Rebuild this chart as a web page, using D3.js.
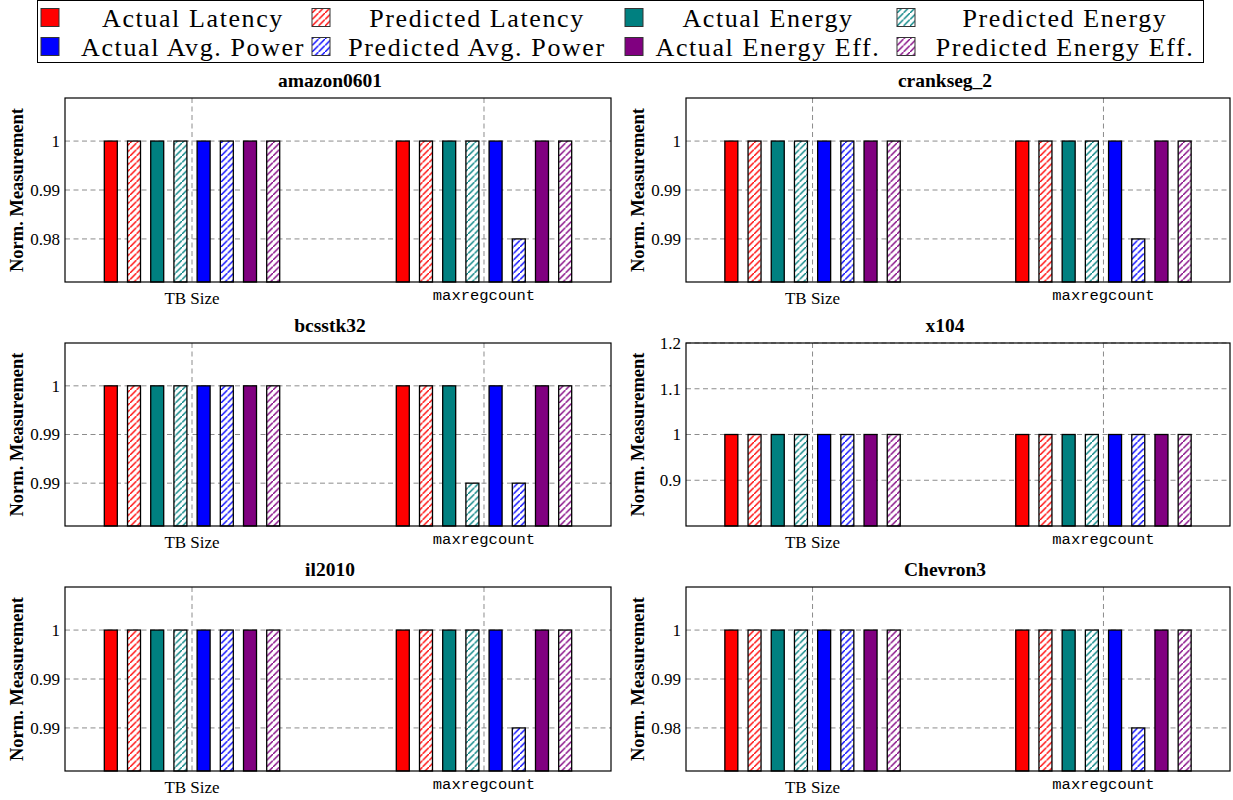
<!DOCTYPE html>
<html>
<head>
<meta charset="utf-8">
<script src="https://cdn.jsdelivr.net/npm/d3@7"></script>
<style>
  html, body { margin: 0; padding: 0; background: #fff; }
  svg { display: block; }
</style>
</head>
<body>
<svg id="chart" width="1233" height="800"></svg>
<script>
// ---------------- DATA ----------------
const seriesNames = [
  "Actual Latency", "Predicted Latency",
  "Actual Energy", "Predicted Energy",
  "Actual Avg. Power", "Predicted Avg. Power",
  "Actual Energy Eff.", "Predicted Energy Eff."
];
const seriesColors = ["#ff0000", "#ff0000", "#008080", "#008080", "#0000ff", "#0000ff", "#800080", "#800080"];
const seriesHatched = [false, true, false, true, false, true, false, true];

const categories = ["TB Size", "maxregcount"];
const panelTitles = ["amazon0601", "crankseg_2", "bcsstk32", "x104", "il2010", "Chevron3"];

// values per panel: [TB Size values], [maxregcount values] in series order
const valuesAmazon   = [[1, 1, 1, 1, 1, 1, 1, 1], [1, 1, 1, 1, 1, 0.98, 1, 1]];
const valuesCrankseg = [[1, 1, 1, 1, 1, 1, 1, 1], [1, 1, 1, 1, 1, 0.99, 1, 1]];
const valuesBcsstk   = [[1, 1, 1, 1, 1, 1, 1, 1], [1, 1, 1, 0.99, 1, 0.99, 1, 1]];
const valuesX104     = [[1, 1, 1, 1, 1, 1, 1, 1], [1, 1, 1, 1, 1, 1, 1, 1]];
const valuesIl2010   = [[1, 1, 1, 1, 1, 1, 1, 1], [1, 1, 1, 1, 1, 0.99, 1, 1]];
const valuesChevron  = [[1, 1, 1, 1, 1, 1, 1, 1], [1, 1, 1, 1, 1, 0.98, 1, 1]];
const panelValues = [valuesAmazon, valuesCrankseg, valuesBcsstk, valuesX104, valuesIl2010, valuesChevron];

// y-axis ticks and their printed labels
const ticksA = [0.98, 0.99, 1];      const tickLabelsA = ["0.98", "0.99", "1"];
const ticksB = [0.99, 0.995, 1];     const tickLabelsB = ["0.99", "0.99", "1"];
const ticksX = [0.9, 1, 1.1, 1.2];   const tickLabelsX = ["0.9", "1", "1.1", "1.2"];
const panelTicks = [ticksA, ticksB, ticksB, ticksX, ticksB, ticksA];
const panelTickLabels = [tickLabelsA, tickLabelsB, tickLabelsB, tickLabelsX, tickLabelsB, tickLabelsA];
// y-axis limits
const domainA = [0.9712, 1.0088];
const domainB = [0.9856, 1.0044];
const domainX = [0.8, 1.2];
const panelDomains = [domainA, domainB, domainB, domainX, domainB, domainA];

// ---------------- LAYOUT ----------------
const svg = d3.select("#chart");
const serif = "'Liberation Serif', 'Times New Roman', serif";
const mono = "'Liberation Mono', 'DejaVu Sans Mono', monospace";

const cols = [{x0: 65, x1: 611, title: 330, ylab: 23}, {x0: 686, x1: 1230, title: 945, ylab: 644}];
const rows = [{y0: 98, y1: 282}, {y0: 343, y1: 526}, {y0: 587, y1: 771}];

// patterns
const defs = svg.append("defs");
seriesColors.forEach((c, i) => {
  if (!seriesHatched[i]) return;
  const p = defs.append("pattern")
    .attr("id", "hatch" + i)
    .attr("patternUnits", "userSpaceOnUse")
    .attr("width", 6.5).attr("height", 6.5);
  p.append("rect").attr("width", 6.5).attr("height", 6.5).attr("fill", "#fff");
  p.append("path")
    .attr("d", "M-1,7.5 L7.5,-1 M-4,3.25 L3.25,-4 M3.25,10.5 L10.5,3.25")
    .attr("stroke", c).attr("stroke-width", 1.4);
});
const fillFor = i => seriesHatched[i] ? `url(#hatch${i})` : seriesColors[i];

// ---------------- LEGEND ----------------
const leg = svg.append("g");
leg.append("rect").attr("x", 37.5).attr("y", 0.5).attr("width", 1166).attr("height", 62)
  .attr("fill", "#fff").attr("stroke", "#000").attr("stroke-width", 1);
const legSwatchX = [41, 312, 625, 897];
const legTextX = [193, 477, 768, 1065];
const legRowY = [17.5, 46.5];
// column order: AL, PL, AE, PE / AP, PP, AEE, PEE
const legendLayout = [[0, 1, 2, 3], [4, 5, 6, 7]];
legendLayout.forEach((row, r) => {
  row.forEach((si, c) => {
    leg.append("rect")
      .attr("x", legSwatchX[c]).attr("y", legRowY[r] - 9).attr("width", 18).attr("height", 18)
      .attr("fill", fillFor(si)).attr("stroke", "#333").attr("stroke-width", 1);
    leg.append("text")
      .attr("x", legTextX[c]).attr("y", legRowY[r]).attr("dy", "0.36em")
      .attr("text-anchor", "middle")
      .attr("font-family", serif).attr("font-size", 26)
      .attr("letter-spacing", 1.6)
      .text(seriesNames[si]);
  });
});

// ---------------- PANELS ----------------
panelTitles.forEach((title, pi) => {
  const col = cols[pi % 2], row = rows[Math.floor(pi / 2)];
  const g = svg.append("g");
  const x = d3.scaleLinear().domain([-0.435, 1.435]).range([col.x0, col.x1]);
  const y = d3.scaleLinear().domain(panelDomains[pi]).range([row.y1, row.y0]);
  const inner = d3.scaleBand().domain(d3.range(seriesNames.length))
    .range([-92.8, 92.8]).paddingInner(0.44).paddingOuter(0.22);

  // grid
  const gridStyle = sel => sel.attr("stroke", "#8c8c8c").attr("stroke-width", 1).attr("stroke-dasharray", "5,3.5");
  g.selectAll(".hg").data(panelTicks[pi]).join("line")
    .attr("x1", col.x0).attr("x2", col.x1)
    .attr("y1", d => y(d)).attr("y2", d => y(d)).call(gridStyle);
  g.selectAll(".vg").data(categories).join("line")
    .attr("x1", (d, i) => x(i)).attr("x2", (d, i) => x(i))
    .attr("y1", row.y0).attr("y2", row.y1).call(gridStyle);

  // bars
  const vals = panelValues[pi];
  const bars = [];
  vals.forEach((arr, ci) => arr.forEach((v, si) => bars.push({ci, si, v})));
  const ymin = panelDomains[pi][0];
  g.selectAll(".bar").data(bars).join("rect")
    .attr("x", d => x(d.ci) + inner(d.si))
    .attr("width", inner.bandwidth())
    .attr("y", d => y(d.v))
    .attr("height", d => y(ymin) - y(d.v))
    .attr("fill", d => fillFor(d.si))
    .attr("stroke", "#000").attr("stroke-width", 1.3);

  // frame
  g.append("rect").attr("x", col.x0).attr("y", row.y0)
    .attr("width", col.x1 - col.x0).attr("height", row.y1 - row.y0)
    .attr("fill", "none").attr("stroke", "#000").attr("stroke-width", 1.2);

  // y ticks
  const labels = panelTickLabels[pi];
  g.selectAll(".yt").data(panelTicks[pi]).join("text")
    .attr("x", col.x0 - 5).attr("y", d => y(d)).attr("dy", "0.35em")
    .attr("text-anchor", "end").attr("font-family", serif).attr("font-size", 17)
    .text((d, i) => labels[i]);

  // x ticks
  g.selectAll(".xt").data(categories).join("text")
    .attr("x", (d, i) => x(i))
    .attr("y", (d, i) => i === 0 ? row.y1 + 22 : row.y1 + 18)
    .attr("text-anchor", "middle")
    .attr("font-family", (d, i) => i === 0 ? serif : mono)
    .attr("font-size", (d, i) => i === 0 ? 17 : 15.5)
    .text(d => d);

  // title
  g.append("text").attr("x", col.title).attr("y", row.y0 - 11)
    .attr("text-anchor", "middle").attr("font-family", serif)
    .attr("font-weight", "bold").attr("font-size", 19.5)
    .text(title);

  // y label
  g.append("text")
    .attr("transform", `translate(${col.ylab},${(row.y0 + row.y1) / 2}) rotate(-90)`)
    .attr("text-anchor", "middle").attr("font-family", serif)
    .attr("font-weight", "bold").attr("font-size", 18.5)
    .text("Norm. Measurement");
});
</script>
</body>
</html>
